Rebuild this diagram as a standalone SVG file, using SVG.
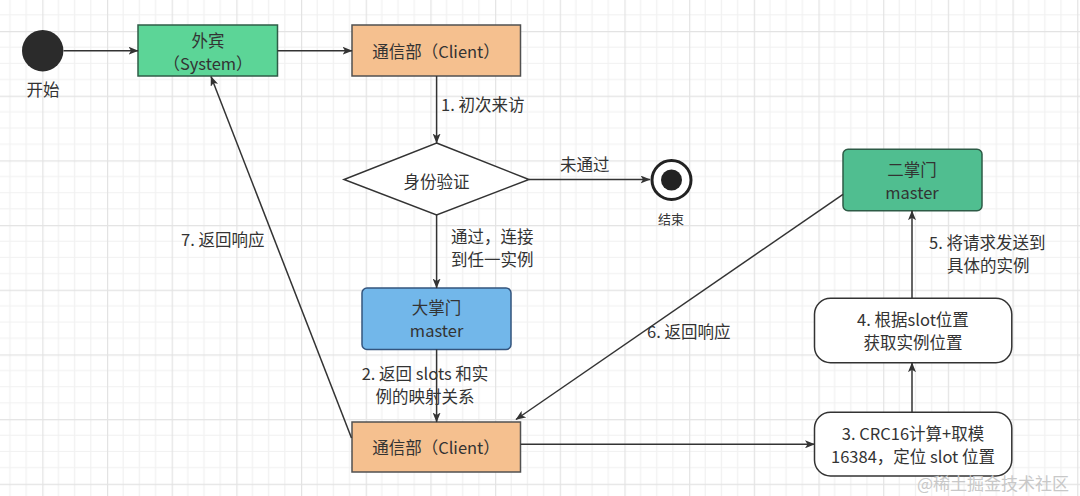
<svg xmlns="http://www.w3.org/2000/svg" width="1080" height="496" viewBox="0 0 1080 496">
<defs>
<pattern id="grid" patternUnits="userSpaceOnUse" x="42.3" y="31" width="64.68" height="64.68">
<rect width="64.68" height="64.68" fill="#ffffff"/>
<path d="M16.17 0V64.68M32.34 0V64.68M48.51 0V64.68M0 16.17H64.68M0 32.34H64.68M0 48.51H64.68" stroke="#f1f1f1" stroke-width="1.2" fill="none"/>
<path d="M0.5 0V64.68M0 0.5H64.68" stroke="#e3e3e3" stroke-width="1.4" fill="none"/>
</pattern>
<marker id="arr" viewBox="0 0 10 8" refX="9.5" refY="4" markerWidth="10" markerHeight="8" markerUnits="userSpaceOnUse" orient="auto">
<path d="M0 0L10 4L0 8L2.5 4Z" fill="#333333"/>
</marker>
<style>
text{font-family:"Noto Sans CJK SC","Noto Sans",sans-serif;fill:#333333;font-size:16.5px;text-anchor:middle;dominant-baseline:central}
.lbl{text-anchor:start}
.edge{stroke:#333333;stroke-width:1.5;fill:none;marker-end:url(#arr)}
.node{stroke-width:1.5}
</style>
</defs>
<rect width="1080" height="496" fill="url(#grid)"/>

<g id="start">
<circle cx="42.7" cy="50.7" r="20.7" fill="#2b2b2b"/>
<text x="43" y="89">开始</text>
</g>

<g id="guest">
<rect class="node" x="138" y="25" width="139.5" height="51" fill="#5cd597" stroke="#2f5c47"/>
<text x="208" y="40">外宾</text>
<text x="208" y="63">（System）</text>
</g>

<g id="client-top">
<rect class="node" x="352" y="25" width="168.5" height="51" fill="#f5c08f" stroke="#505050"/>
<text x="436" y="51">通信部（Client）</text>
</g>

<g id="auth">
<polygon class="node" points="436.6,143 529,179.5 436.6,215 344,179.5" fill="#ffffff" stroke="#333333"/>
<text x="436.6" y="181">身份验证</text>
</g>

<g id="end">
<circle cx="671.5" cy="180" r="19.5" fill="#ffffff" stroke="#222222" stroke-width="3"/>
<circle cx="671.5" cy="180" r="10.5" fill="#222222"/>
<text x="671" y="218" style="font-size:13px">结束</text>
</g>

<g id="master1">
<rect class="node" x="362" y="288" width="149" height="61.5" rx="5" fill="#72b7ea" stroke="#34557e"/>
<text x="436.6" y="307">大掌门</text>
<text x="436.6" y="330">master</text>
</g>

<g id="client-bottom">
<rect class="node" x="352" y="422" width="168.5" height="50" fill="#f5c08f" stroke="#505050"/>
<text x="436" y="447">通信部（Client）</text>
</g>

<g id="master2">
<rect class="node" x="843" y="149.3" width="139" height="61.4" rx="5" fill="#50be90" stroke="#2d5b46"/>
<text x="912" y="168.5">二掌门</text>
<text x="912" y="191.5">master</text>
</g>

<g id="step4">
<rect class="node" x="814.5" y="298.3" width="197.3" height="64.4" rx="16" fill="#ffffff" stroke="#333333"/>
<text x="913" y="319">4. 根据slot位置</text>
<text x="913" y="342">获取实例位置</text>
</g>

<g id="step3">
<rect class="node" x="814.5" y="412.3" width="197.3" height="63.7" rx="16" fill="#ffffff" stroke="#333333"/>
<text x="913" y="433">3. CRC16计算+取模</text>
<text x="913" y="456">16384，定位 slot 位置</text>
</g>

<g id="connectors">
<path class="edge" d="M63.5 50.7H138"/>
<path class="edge" d="M277.5 50.7H352"/>
<path class="edge" d="M436.6 76V143"/>
<path class="edge" d="M529 179.5H650"/>
<path class="edge" d="M436.6 215V288"/>
<path class="edge" d="M436.6 349.5V422"/>
<path class="edge" d="M520.5 444.3H814.5"/>
<path class="edge" d="M912 412.3V362.7"/>
<path class="edge" d="M912 298.3V210.7"/>
<path class="edge" d="M843 194.3L516 419.5"/>
<path class="edge" d="M351.5 438L211 76.5"/>
</g>

<g id="labels">
<text class="lbl" x="441" y="104">1. 初次来访</text>
<text class="lbl" x="560" y="164">未通过</text>
<text class="lbl" x="451" y="236">通过，连接</text>
<text class="lbl" x="451" y="259">到任一实例</text>
<text class="lbl" x="181" y="239">7. 返回响应</text>
<text x="425" y="373">2. 返回 slots 和实</text>
<text x="425" y="396">例的映射关系</text>
<text class="lbl" x="647" y="331">6. 返回响应</text>
<text class="lbl" x="929" y="242">5. 将请求发送到</text>
<text class="lbl" x="947" y="265">具体的实例</text>
<text x="993" y="482" style="font-size:17px;fill:#c8c8c8">@稀土掘金技术社区</text>
</g>
</svg>
